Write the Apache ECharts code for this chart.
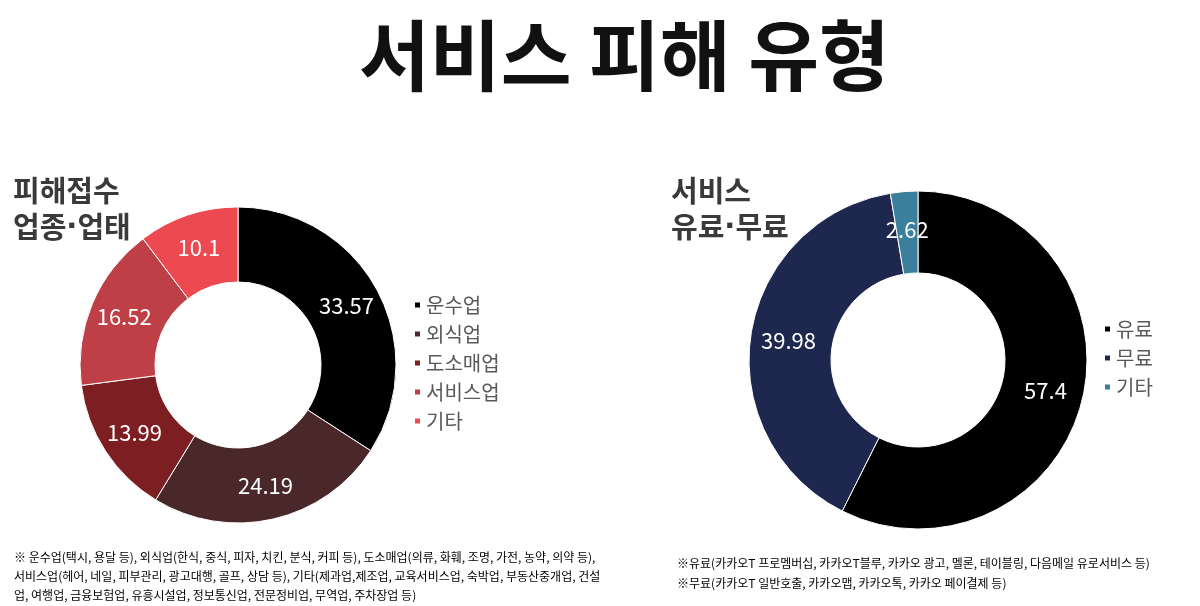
<!DOCTYPE html>
<html>
<head>
<meta charset="utf-8">
<script src="https://cdn.jsdelivr.net/npm/echarts@6/dist/echarts.min.js"></script>
<style>
  html, body { margin: 0; padding: 0; background: #fff; }
  #main { width: 1200px; height: 606px; }
</style>
</head>
<body>
<div id="main"></div>
<script>
// 업종·업태 (왼쪽)
var industryNames = ['운수업', '외식업', '도소매업', '서비스업', '기타']
var industryValues = [33.57, 24.19, 13.99, 16.52, 10.1]
var industryColors = ['#000000', '#4a2829', '#7d1f22', '#be3f46', '#ec4a50']

// 유료·무료 (오른쪽)
var payNames = ['유료', '무료', '기타']
var payValues = [57.4, 39.98, 2.62]
var payColors = ['#000000', '#1e284e', '#3b7f9d']

var FONT = '"Noto Sans CJK KR", "Noto Sans", sans-serif'

function toData (names, values, colors) {
  return names.map(function (n, i) {
    return { name: n, value: values[i], itemStyle: { color: colors[i] } }
  })
}

// 두 차트 모두 '기타'가 있어서 범례 색을 직접 지정
function legendData (names, colors) {
  return names.map(function (n, i) {
    return { name: n, itemStyle: { color: colors[i] } }
  })
}

var pieLabel = {
  show: true,
  position: 'inside',
  color: '#fff',
  fontSize: 22,
  fontFamily: FONT,
  formatter: '{c}'
}

var subStyle = { fontSize: 29, fontWeight: 'bold', color: '#3a3a3a', fontFamily: FONT, lineHeight: 36 }
var dotStyle = { fontSize: 29, fontWeight: 'bold', color: '#3a3a3a', fontFamily: '"DejaVu Sans", sans-serif', lineHeight: 36 }

var option = {
  animation: false,
  title: [
    {
      text: '서비스 피해 유형',
      left: 354,
      top: 12,
      textStyle: { fontSize: 77, fontWeight: 'bold', color: '#111', fontFamily: FONT }
    },
    {
      text: '{a|피해접수}\n{a|업종}{d|·}{a|업태}',
      left: 8,
      top: 168,
      textStyle: { rich: { a: subStyle, d: dotStyle } }
    },
    {
      text: '{a|서비스}\n{a|유료}{d|·}{a|무료}',
      left: 666,
      top: 168,
      textStyle: { rich: { a: subStyle, d: dotStyle } }
    },
    {
      text: '※ 운수업(택시, 용달 등), 외식업(한식, 중식, 피자, 치킨, 분식, 커피 등), 도소매업(의류, 화훼, 조명, 가전, 농약, 의약 등),\n서비스업(헤어, 네일, 피부관리, 광고대행, 골프, 상담 등), 기타(제과업,제조업, 교육서비스업, 숙박업, 부동산중개업, 건설\n업, 여행업, 금융보험업, 유흥시설업, 정보통신업, 전문정비업, 무역업, 주차장업 등)',
      left: 9,
      top: 543,
      textStyle: { fontSize: 12, fontWeight: 'normal', color: '#000', fontFamily: FONT, lineHeight: 19 }
    },
    {
      text: '※유료(카카오T 프로멤버십, 카카오T블루, 카카오 광고, 멜론, 테이블링, 다음메일 유로서비스 등)\n※무료(카카오T 일반호출, 카카오맵, 카카오톡, 카카오 페이결제 등)',
      left: 672,
      top: 548,
      textStyle: { fontSize: 12, fontWeight: 'normal', color: '#000', fontFamily: FONT, lineHeight: 20 }
    }
  ],
  legend: [
    {
      data: legendData(industryNames, industryColors),
      orient: 'vertical',
      left: 408,
      top: 290,
      icon: 'rect',
      itemWidth: 7,
      itemHeight: 7,
      itemGap: 9,
      textStyle: { fontSize: 20, color: '#595959', fontFamily: FONT }
    },
    {
      data: legendData(payNames, payColors),
      orient: 'vertical',
      left: 1098,
      top: 314,
      icon: 'rect',
      itemWidth: 7,
      itemHeight: 7,
      itemGap: 9,
      textStyle: { fontSize: 20, color: '#595959', fontFamily: FONT }
    }
  ],
  series: [
    {
      type: 'pie',
      center: [238, 365],
      radius: [83, 158],
      startAngle: 90,
      clockwise: true,
      avoidLabelOverlap: false,
      itemStyle: { borderColor: '#fff', borderWidth: 1 },
      label: pieLabel,
      labelLine: { show: false },
      data: toData(industryNames, industryValues, industryColors)
    },
    {
      type: 'pie',
      center: [918, 360],
      radius: [87, 169],
      startAngle: 90,
      clockwise: true,
      avoidLabelOverlap: false,
      itemStyle: { borderColor: '#fff', borderWidth: 1 },
      label: pieLabel,
      labelLine: { show: false },
      data: toData(payNames, payValues, payColors)
    }
  ]
}

var myChart = echarts.init(document.getElementById('main'))
myChart.setOption(option)
</script>
</body>
</html>
